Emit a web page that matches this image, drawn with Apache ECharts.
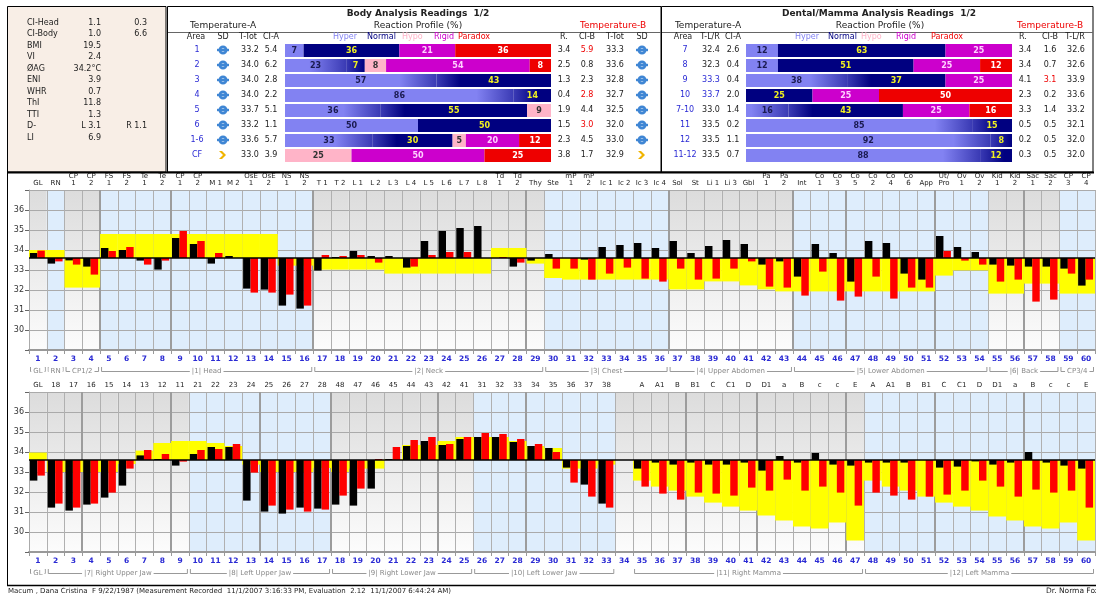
<!DOCTYPE html>
<html>
<head>
<meta charset="utf-8">
<script src="https://cdn.jsdelivr.net/npm/echarts@6/dist/echarts.min.js"></script>
<style>
html, body { margin: 0; padding: 0; background: #fff; }
#chart { width: 1096px; height: 594px; }
</style>
</head>
<body>
<div id="chart"></div>
<script>
// ---- values ----
const BASE = 33.6;

const colNums = Array.from({ length: 60 }, (_, i) => String(i + 1));

const upperTop = ['GL', 'RN', 'CP\n1', 'CP\n2', 'FS\n1', 'FS\n2', 'Te\n1', 'Te\n2', 'CP\n1', 'CP\n2',
  'M 1', 'M 2', 'OsE\n1', 'OsE\n2', 'NS\n1', 'NS\n2', 'T 1', 'T 2', 'L 1', 'L 2',
  'L 3', 'L 4', 'L 5', 'L 6', 'L 7', 'L 8', 'Td\n1', 'Td\n2', 'Thy', 'Ste',
  'mP\n1', 'mP\n2', 'Ic 1', 'Ic 2', 'Ic 3', 'Ic 4', 'Sol', 'St', 'Li 1', 'Li 3',
  'Gbl', 'Pa\n1', 'Pa\n2', 'Int', 'Co\n1', 'Co\n3', 'Co\n5', 'Co\n2', 'Co\n4', 'Co\n6',
  'App', 'Ut/\nPro', 'Ov\n1', 'Ov\n2', 'Kid\n1', 'Kid\n2', 'Sac\n1', 'Sac\n2', 'CP\n3', 'CP\n4'];

const upperBlack = [33.85, 33.32, 33.48, 33.17, 34.10, 34.00, 33.47, 33.02, 34.60, 34.30,
  33.32, 33.70, 32.07, 32.02, 31.22, 31.07, 32.97, 33.65, 33.95, 33.70,
  33.70, 33.12, 34.45, 34.95, 35.10, 35.20, null, 33.17, 33.47, 33.80,
  null, 33.52, 34.15, 34.25, 34.35, 34.10, 34.45, 33.85, 34.20, 34.50,
  34.30, 33.27, 33.43, 32.67, 34.30, 33.85, 32.42, 34.45, 34.35, 32.82,
  32.52, 34.70, 34.15, 33.90, 33.27, 33.22, 33.17, 33.17, 33.07, 32.22];

const upperRed = [33.97, 33.43, 33.27, 32.77, 33.95, 34.15, 33.27, 33.47, 34.95, 34.45,
  33.85, null, 31.87, 31.87, 31.77, 31.22, 33.75, 33.70, 33.75, 33.37,
  null, 33.17, 33.75, 33.90, 33.90, null, 33.65, 33.37, null, 33.07,
  33.07, 32.52, 32.82, 33.12, 32.57, 32.42, 33.07, 32.52, 32.57, 33.07,
  33.43, 32.17, 32.12, 31.72, 32.92, 31.47, 31.67, 32.67, 31.57, 32.12,
  32.12, 33.95, 33.47, 33.27, 32.42, 32.52, 31.42, 31.52, 32.82, 32.52];

const upperYellow = [34.0, 34.0, 32.12, 32.12, 34.8, 34.8, 34.8, 34.8, 34.8, 34.8,
  34.8, 34.8, 34.8, 34.8, 33.22, 33.22, 33.02, 33.02, 33.02, 33.02,
  32.82, 32.82, 32.82, 32.82, 32.82, 32.82, 34.1, 34.1, 33.32, 32.6,
  32.52, 32.52, 32.52, 32.52, 32.52, 32.52, 32.03, 32.03, 32.43, 32.43,
  32.23, 32.03, 31.93, 31.93, 31.93, 31.93, 31.93, 31.93, 31.93, 31.93,
  31.93, 32.72, 32.98, 32.98, 31.82, 31.82, 32.32, 32.32, 31.82, 31.82];

const lowerTop = ['GL', '18', '17', '16', '15', '14', '13', '12', '11', '21',
  '22', '23', '24', '25', '26', '27', '28', '48', '47', '46',
  '45', '44', '43', '42', '41', '31', '32', '33', '34', '35',
  '36', '37', '38', '', 'A', 'A1', 'B', 'B1', 'C', 'C1',
  'D', 'D1', 'a', 'B', 'c', 'c', 'E', 'A', 'A1', 'B',
  'B1', 'C', 'C1', 'D', 'D1', 'a', 'B', 'c', 'c', 'E'];

const lowerBlack = [32.57, 31.22, 31.07, 31.37, 31.72, 32.32, 33.83, 33.65, 33.32, 33.90,
  34.25, 34.25, 31.57, 31.02, 30.92, 31.22, 31.17, 31.37, 31.32, 32.17,
  33.65, 34.30, 34.55, 34.35, 34.65, 34.75, 34.75, 34.50, 34.30, 34.20,
  33.22, 32.37, 31.42, null, 33.17, 33.47, 33.37, 33.47, 33.37, 33.37,
  33.47, 33.07, 33.80, 33.47, 33.95, 33.37, 33.32, 33.47, 33.47, 33.47,
  null, 33.22, 33.27, 33.53, 33.37, 33.47, 34.00, 33.47, 33.32, 33.17];

const lowerRed = [32.82, 31.42, 31.22, 31.42, 31.97, 33.17, 34.10, 33.90, 33.52, 34.10,
  34.15, 34.40, 32.97, 31.32, 31.12, 31.02, 31.12, 31.82, 32.17, 33.65,
  34.25, 34.60, 34.75, 34.40, 34.75, 34.95, 34.90, 34.65, 34.40, 34.00,
  32.47, 31.77, 31.22, null, 32.27, 31.92, 31.62, 31.97, 31.92, 31.82,
  32.22, 32.07, 32.62, 32.07, 32.27, 31.97, 31.32, 31.97, 31.82, 31.62,
  31.77, 31.87, 32.07, 32.57, 32.27, 31.77, 32.12, 31.97, 32.07, 31.22];

const lowerYellow = [33.97, 33.0, 33.0, 33.0, 33.0, 33.4, 34.07, 34.45, 34.55, 34.55,
  34.45, 34.3, 33.37, 33.0, 33.0, 33.0, 33.2, 33.0, 33.17, 33.17,
  33.65, 34.35, 34.35, 34.55, 34.75, 34.75, 34.75, 34.55, 34.3, 34.2,
  33.17, 33.17, 33.37, null, 32.57, 32.27, 32.07, 31.77, 31.47, 31.27,
  31.07, 30.82, 30.57, 30.27, 30.17, 30.47, 29.57, 32.57, 32.27, 32.07,
  31.77, 31.47, 31.27, 31.07, 30.77, 30.57, 30.27, 30.17, 30.47, 29.57];

// column shading: g = grey, b = blue
const upperShade = 'gbggbbbbbbbbbbbbgggggggggggggbbbbbbbgggggggbbbbbbbbbbbggggbb'.split('');
const lowerShade = 'gggggggggbbbbbbbbggggggggbbbbbbbbggggggggggggggbbbbbbbbbbbbb'.split('');
const upperDividers = [4, 8, 16, 28, 36, 43, 46, 51, 56];
const lowerDividers = [3, 8, 13, 17, 23, 28, 37, 41, 46, 51, 56];

const upperGroups = [[1, 1, 'GL'], [2, 2, 'RN'], [3, 4, 'CP1/2'], [5, 16, '|1| Head'], [17, 29, '|2| Neck'],
  [30, 36, '|3| Chest'], [37, 43, '|4| Upper Abdomen'], [44, 54, '|5| Lower Abdomen'], [55, 58, '|6| Back'], [59, 60, 'CP3/4']];
const lowerGroups = [[1, 1, 'GL'], [2, 9, '|7| Right Upper Jaw'], [10, 17, '|8| Left Upper Jaw'],
  [18, 25, '|9| Right Lower Jaw'], [26, 33, '|10| Left Lower Jaw'], [35, 47, '|11| Right Mamma'], [48, 60, '|12| Left Mamma']];

// reaction profile tables
const bodyAreas = ['1', '2', '3', '4', '5', '6', '1-6', 'CF'];
const bodyHyper = [7, 23, 57, 86, 36, 50, 33, 0];
const bodyNormal = [36, 7, 43, 14, 55, 50, 30, 0];
const bodyHypo = [0, 8, 0, 0, 9, 0, 5, 25];
const bodyRigid = [21, 54, 0, 0, 0, 0, 20, 50];
const bodyParadox = [36, 8, 0, 0, 0, 0, 12, 25];
const bodyTotA = ['33.2', '34.0', '34.0', '34.0', '33.7', '33.2', '33.6', '33.0'];
const bodyCiA = ['5.4', '6.2', '2.8', '2.2', '5.1', '1.1', '5.7', '3.9'];
const bodyR = ['3.4', '2.5', '1.3', '0.4', '1.9', '1.5', '2.3', '3.8'];
const bodyCiB = ['5.9', '0.8', '2.3', '2.8', '4.4', '3.0', '4.5', '1.7'];
const bodyTotB = ['33.3', '33.6', '32.8', '32.7', '32.5', '32.0', '33.0', '32.9'];

const dentAreas = ['7', '8', '9', '10', '7-10', '11', '12', '11-12'];
const dentHyper = [12, 12, 38, 0, 16, 85, 92, 88];
const dentNormal = [63, 51, 37, 25, 43, 15, 8, 12];
const dentHypo = [0, 0, 0, 0, 0, 0, 0, 0];
const dentRigid = [25, 25, 25, 25, 25, 0, 0, 0];
const dentParadox = [0, 12, 0, 50, 16, 0, 0, 0];
const dentTA = ['32.4', '32.3', '33.3', '33.7', '33.0', '33.5', '33.5', '33.5'];
const dentCiA = ['2.6', '0.4', '0.4', '2.0', '1.4', '0.2', '1.1', '0.7'];
const dentR = ['3.4', '3.4', '4.1', '2.3', '3.3', '0.5', '0.2', '0.3'];
const dentCiB = ['1.6', '0.7', '3.1', '0.2', '1.4', '0.5', '0.5', '0.5'];
const dentTB = ['32.6', '32.6', '33.9', '33.6', '33.2', '32.1', '32.0', '32.0'];

const statLabels = ['CI-Head', 'CI-Body', 'BMI', 'VI', 'ØAG', 'ENI', 'WHR', 'ThI', 'TTI', 'D-', 'LI'];
const statValues = ['1.1', '1.0', '19.5', '2.4', '34.2°C', '3.9', '0.7', '11.8', '1.3', 'L 3.1', '6.9'];
const statExtra = ['0.3', '6.6', '', '', '', '', '', '', '', 'R 1.1', ''];

// ---- styling ----
const FONT = '"DejaVu Sans", Verdana, sans-serif';
const HYPER = '#8282f2', NORMAL = '#000080', HYPO = '#ffb4c8', RIGID = '#cc00cc', PARADOX = '#ee0000', MID = '#3a3ab4';
const bodyBlend = [1, 2, 3, 4, 6];
const dentBlend = [2, 4, 5, 6, 7];
const bodyCiBRed = [0, 3, 5];
const dentCiBRed = [2];
const dentTABlue = [2, 3];

const GRID_L = 29, GRID_W = 1066, NCOL = 60;
const colX = i => GRID_L + i * GRID_W / NCOL;

const greyGrad = { type: 'linear', x: 0, y: 0, x2: 0, y2: 1,
  colorStops: [{ offset: 0, color: '#dcdcdc' }, { offset: 1, color: '#fcfcfc' }] };

function shadeSeries(shade, xi, yi) {
  return {
    type: 'custom', xAxisIndex: xi, yAxisIndex: yi, z: -1, silent: true,
    data: shade.map((s, i) => [i, 37]),
    renderItem: (params, api) => {
      const i = api.value(0);
      const w = api.size([1, 0])[0];
      const t = api.coord([i, 37]);
      const b = api.coord([i, 29]);
      return { type: 'rect', shape: { x: t[0] - w / 2, y: t[1], width: w, height: b[1] - t[1] },
        style: { fill: shade[params.dataIndex] === 'g' ? greyGrad : '#deedfc' } };
    }
  };
}

function dividerSeries(cols, xi, yi) {
  return {
    type: 'custom', xAxisIndex: xi, yAxisIndex: yi, z: 1, silent: true,
    data: cols.map(c => [c - 1, 37]),
    renderItem: (params, api) => {
      const i = api.value(0);
      const w = api.size([1, 0])[0];
      const t = api.coord([i, 37]);
      const b = api.coord([i, 29]);
      const x = Math.round(t[0] + w / 2);
      return { type: 'line', shape: { x1: x, y1: t[1], x2: x, y2: b[1] }, style: { stroke: '#9c9c9c', lineWidth: 2 } };
    }
  };
}

function barSeries(vals, from, to, color, xi, yi, z, withBase) {
  const s = {
    type: 'custom', xAxisIndex: xi, yAxisIndex: yi, z, silent: true,
    data: vals.map((v, i) => [i, v]),
    renderItem: (params, api) => {
      const v = vals[params.dataIndex];
      if (v == null) return null;
      const i = api.value(0);
      const w = api.size([1, 0])[0];
      const c = api.coord([i, v]);
      const b = api.coord([i, BASE]);
      const left = c[0] - w / 2;
      return { type: 'rect', shape: { x: left + from * w, y: Math.min(c[1], b[1]), width: (to - from) * w, height: Math.abs(c[1] - b[1]) },
        style: { fill: color } };
    }
  };
  if (withBase) {
    s.markLine = { silent: true, symbol: 'none', animation: false, label: { show: false },
      lineStyle: { color: '#000', width: 1.5, type: 'solid' }, data: [{ yAxis: BASE }] };
  }
  return s;
}

function profileSeries(vals, color, labelColor, kind, blend, xi, yi, stack) {
  return {
    type: 'bar', stack, xAxisIndex: xi, yAxisIndex: yi, barWidth: 13, silent: true,
    itemStyle: { color },
    data: vals.map((v, r) => {
      if (!blend.includes(r) || !v) return v;
      if (kind === 'hyper') {
        return { value: v, itemStyle: { color: new echarts.graphic.LinearGradient(0, 0, 1, 0, [
          { offset: 0, color: HYPER }, { offset: Math.max(0, 1 - 14 / v), color: HYPER }, { offset: 1, color: MID }]) } };
      }
      if (kind === 'normal') {
        return { value: v, itemStyle: { color: new echarts.graphic.LinearGradient(0, 0, 1, 0, [
          { offset: 0, color: MID }, { offset: Math.min(1, 9 / v), color: NORMAL }, { offset: 1, color: NORMAL }]) } };
      }
      return v;
    }),
    label: { show: true, position: 'inside', color: labelColor, fontSize: 8, fontWeight: 'bold', fontFamily: FONT,
      formatter: p => (p.value ? p.value : '') }
  };
}

function valueAxis(gi) {
  return {
    type: 'value', gridIndex: gi, min: 29, max: 37, interval: 1,
    axisLine: { show: true, lineStyle: { color: '#aaa' } },
    axisTick: { show: true, length: 4, lineStyle: { color: '#666' } },
    axisLabel: { fontSize: 8, color: '#333', fontFamily: FONT, margin: 5,
      formatter: v => (v > 29 && v < 37 ? String(v) : '') },
    splitLine: { show: true, lineStyle: { color: '#aaa', width: 1 } }
  };
}

function bottomAxis(gi) {
  return {
    type: 'category', gridIndex: gi, position: 'bottom', data: colNums,
    axisLine: { show: true, lineStyle: { color: '#999', width: 2 } },
    axisTick: { show: true, length: 4, interval: 0, lineStyle: { color: '#999' } },
    axisLabel: { interval: 0, fontSize: 7.5, fontWeight: 'bold', color: '#2a2ad4', fontFamily: FONT, margin: 5 },
    splitLine: { show: true, interval: 0, lineStyle: { color: '#b0b0b0', width: 1 } }
  };
}

function topAxis(gi, labels) {
  return {
    type: 'category', gridIndex: gi, position: 'top', data: labels,
    axisLine: { show: true, lineStyle: { color: '#aaa' } },
    axisTick: { show: false },
    axisLabel: { interval: 0, fontSize: 7, color: '#222', fontFamily: FONT, margin: 3, lineHeight: 7.5 },
    splitLine: { show: false }
  };
}

// ---- graphic helpers ----
const g = [];
function txt(x, y, text, o) {
  o = o || {};
  g.push({ type: 'text', x, y, silent: true, z: 10,
    style: Object.assign({ text, fill: '#222', fontSize: 8, fontFamily: FONT,
      textAlign: o.align || 'center', textVerticalAlign: 'middle' }, o.style || {}) });
}
function line(x1, y1, x2, y2, stroke, w) {
  g.push({ type: 'line', silent: true, z: 9, shape: { x1, y1, x2, y2 }, style: { stroke: stroke || '#000', lineWidth: w || 1 } });
}
function rect(x, y, w, h, fill, stroke) {
  g.push({ type: 'rect', silent: true, z: 0, shape: { x, y, width: w, height: h }, style: { fill: fill || 'none', stroke: stroke || '#000', lineWidth: 1 } });
}
function sdIcon(cx, cy, chevron) {
  if (chevron) {
    g.push({ type: 'polygon', silent: true, z: 10, shape: { points: [[cx - 4, cy - 4], [cx - 1, cy - 4], [cx + 3, cy], [cx - 1, cy + 4], [cx - 4, cy + 4], [cx, cy]] },
      style: { fill: '#f0b400' } });
  } else {
    g.push({ type: 'ring', silent: true, z: 10, shape: { cx, cy, r: 4.5, r0: 1.8 }, style: { fill: '#3f86d4' } });
    g.push({ type: 'rect', silent: true, z: 10, shape: { x: cx - 6, y: cy - 1.2, width: 12, height: 2.4 }, style: { fill: '#3f86d4' } });
  }
}

// frames
rect(7.5, 6.5, 158.5, 165.5, '#f8eee6', '#000');
rect(167.5, 6.5, 493.5, 165.5, '#fff', '#000');
rect(661.5, 6.5, 431.5, 165.5, '#fff', '#000');
line(7, 172.5, 1094, 172.5, '#000', 2);
line(7.5, 172, 7.5, 585, '#000', 1);
line(7, 585.5, 1096, 585.5, '#000', 1.5);
line(168, 32.5, 661, 32.5, '#666', 1);
line(662, 32.5, 1093, 32.5, '#666', 1);

// left stats panel
const rowsY = [22.7, 34.3, 45.7, 57.3, 69, 80.3, 91.7, 103, 114.7, 126, 137.7];
statLabels.forEach((s, k) => {
  txt(27, rowsY[k], s, { align: 'left' });
  txt(101, rowsY[k], statValues[k], { align: 'right' });
  if (statExtra[k]) txt(147, rowsY[k], statExtra[k], { align: 'right' });
});

// body panel texts
txt(418, 14, 'Body Analysis Readings  1/2', { style: { fontSize: 9, fontWeight: 'bold' } });
txt(223, 25.5, 'Temperature-A', { style: { fontSize: 9 } });
txt(418, 25.5, 'Reaction Profile (%)', { style: { fontSize: 9 } });
txt(613, 25.5, 'Temperature-B', { style: { fontSize: 9, fill: '#ee0000' } });
[['Area', 196], ['SD', 223], ['T-Tot', 248], ['CI-A', 271], ['R.', 564], ['CI-B', 587], ['T-Tot', 615], ['SD', 642]]
  .forEach(([s, x]) => txt(x, 36.8, s));
[['Hyper', 333, HYPER], ['Normal', 367, NORMAL], ['Hypo', 402, HYPO], ['Rigid', 434, RIGID], ['Paradox', 458, PARADOX]]
  .forEach(([s, x, c]) => txt(x, 36.8, s, { align: 'left', style: { fill: c } }));
bodyAreas.forEach((a, k) => {
  const y = 50 + 15 * k;
  txt(197, y, a, { style: { fill: '#2a2ad4' } });
  sdIcon(223, y, a === 'CF');
  txt(250, y, bodyTotA[k]);
  txt(271, y, bodyCiA[k]);
  txt(564, y, bodyR[k]);
  txt(587, y, bodyCiB[k], { style: { fill: bodyCiBRed.includes(k) ? '#ee0000' : '#222' } });
  txt(615, y, bodyTotB[k]);
  sdIcon(642, y, a === 'CF');
});

// dental panel texts
txt(879, 14, 'Dental/Mamma Analysis Readings  1/2', { style: { fontSize: 9, fontWeight: 'bold' } });
txt(708, 25.5, 'Temperature-A', { style: { fontSize: 9 } });
txt(880, 25.5, 'Reaction Profile (%)', { style: { fontSize: 9 } });
txt(1050, 25.5, 'Temperature-B', { style: { fontSize: 9, fill: '#ee0000' } });
[['Area', 683], ['T-L/R', 710], ['CI-A', 733], ['R.', 1023], ['CI-B', 1050], ['T-L/R', 1075]]
  .forEach(([s, x]) => txt(x, 36.8, s));
[['Hyper', 795, HYPER], ['Normal', 828, NORMAL], ['Hypo', 861, HYPO], ['Rigid', 896, RIGID], ['Paradox', 931, PARADOX]]
  .forEach(([s, x, c]) => txt(x, 36.8, s, { align: 'left', style: { fill: c } }));
dentAreas.forEach((a, k) => {
  const y = 50 + 15 * k;
  txt(685, y, a, { style: { fill: '#2a2ad4' } });
  txt(711, y, dentTA[k], { style: { fill: dentTABlue.includes(k) ? '#2a2ad4' : '#222' } });
  txt(733, y, dentCiA[k]);
  txt(1025, y, dentR[k]);
  txt(1050, y, dentCiB[k], { style: { fill: dentCiBRed.includes(k) ? '#ee0000' : '#222' } });
  txt(1076, y, dentTB[k]);
});

// group brackets under each chart
function groupMarks(groups, y) {
  groups.forEach(([s, e, name]) => {
    const x0 = colX(s - 1) + 1.5, x1 = colX(e) - 1.5;
    line(x0, y + 0.5, x1, y + 0.5, '#999', 1);
    line(x0, y - 4, x0, y + 0.5, '#999', 1);
    line(x1, y - 4, x1, y + 0.5, '#999', 1);
    txt((x0 + x1) / 2, y, name, { style: { fill: '#888', fontSize: 7, backgroundColor: '#fff', padding: [0, 2] } });
  });
}
groupMarks(upperGroups, 371);
groupMarks(lowerGroups, 573);

// footer
txt(8, 591, 'Macum , Dana Cristina  F 9/22/1987 (Measurement Recorded  11/1/2007 3:16:33 PM, Evaluation  2.12  11/1/2007 6:44:24 AM)',
  { align: 'left', style: { fontSize: 7 } });
txt(1046, 591, 'Dr. Norma Fox', { align: 'left', style: { fontSize: 7.5 } });

// ---- chart ----
const chart = echarts.init(document.getElementById('chart'), null, { renderer: 'canvas' });
chart.setOption({
  animation: false,
  backgroundColor: '#fff',
  textStyle: { fontFamily: FONT },
  grid: [
    { left: GRID_L, top: 190, width: GRID_W, height: 160 },
    { left: GRID_L, top: 392, width: GRID_W, height: 160 },
    { left: 285, top: 43, width: 266, height: 120 },
    { left: 746, top: 43, width: 266, height: 120 }
  ],
  xAxis: [
    bottomAxis(0), topAxis(0, upperTop),
    bottomAxis(1), topAxis(1, lowerTop),
    { type: 'value', gridIndex: 2, min: 0, max: 100, show: false },
    { type: 'value', gridIndex: 3, min: 0, max: 100, show: false }
  ],
  yAxis: [
    valueAxis(0), valueAxis(1),
    { type: 'category', gridIndex: 2, data: bodyAreas, inverse: true, show: false },
    { type: 'category', gridIndex: 3, data: dentAreas, inverse: true, show: false }
  ],
  series: [
    shadeSeries(upperShade, 0, 0),
    dividerSeries(upperDividers, 0, 0),
    barSeries(upperYellow, 0, 1, '#ffff00', 0, 0, 2, false),
    barSeries(upperBlack, 0.05, 0.47, '#000', 0, 0, 3, false),
    barSeries(upperRed, 0.47, 0.89, '#ff0000', 0, 0, 3, true),

    shadeSeries(lowerShade, 2, 1),
    dividerSeries(lowerDividers, 2, 1),
    barSeries(lowerYellow, 0, 1, '#ffff00', 2, 1, 2, false),
    barSeries(lowerBlack, 0.05, 0.47, '#000', 2, 1, 3, false),
    barSeries(lowerRed, 0.47, 0.89, '#ff0000', 2, 1, 3, true),

    profileSeries(bodyHyper, HYPER, '#1a1a50', 'hyper', bodyBlend, 4, 2, 'body'),
    profileSeries(bodyNormal, NORMAL, '#f0f020', 'normal', bodyBlend, 4, 2, 'body'),
    profileSeries(bodyHypo, HYPO, '#333', 'hypo', bodyBlend, 4, 2, 'body'),
    profileSeries(bodyRigid, RIGID, '#ffd0ff', 'rigid', bodyBlend, 4, 2, 'body'),
    profileSeries(bodyParadox, PARADOX, '#fff', 'paradox', bodyBlend, 4, 2, 'body'),

    profileSeries(dentHyper, HYPER, '#1a1a50', 'hyper', dentBlend, 5, 3, 'dent'),
    profileSeries(dentNormal, NORMAL, '#f0f020', 'normal', dentBlend, 5, 3, 'dent'),
    profileSeries(dentHypo, HYPO, '#333', 'hypo', dentBlend, 5, 3, 'dent'),
    profileSeries(dentRigid, RIGID, '#ffd0ff', 'rigid', dentBlend, 5, 3, 'dent'),
    profileSeries(dentParadox, PARADOX, '#fff', 'paradox', dentBlend, 5, 3, 'dent')
  ],
  graphic: { elements: g }
});
</script>
</body>
</html>
